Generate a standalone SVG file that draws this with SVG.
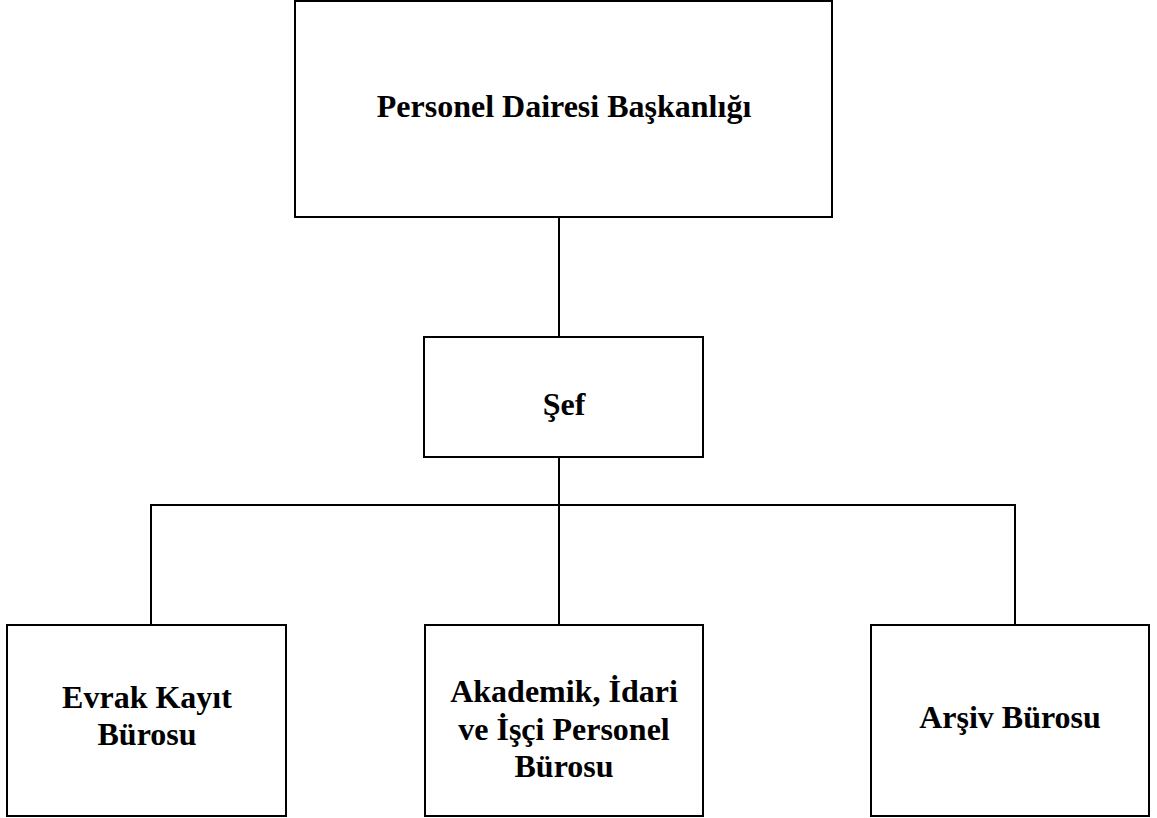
<svg xmlns="http://www.w3.org/2000/svg" width="1157" height="818" viewBox="0 0 1157 818">
<style>
.box{fill:#fff;stroke:#000;stroke-width:2}
.ln{fill:none;stroke:#000;stroke-width:2}
.t{font-family:"Liberation Serif","Times New Roman",serif;font-weight:bold;font-size:32px;fill:#000;text-anchor:middle}
</style>
<rect width="1157" height="818" fill="#fff"/>
<g id="connectors">
<path class="ln" d="M559 217V337"/>
<path class="ln" d="M559 457V505"/>
<path class="ln" d="M151 625V505H1015V625"/>
<path class="ln" d="M559 505V625"/>
</g>
<g id="node-baskanlik">
<rect class="box" x="295" y="1" width="537" height="216"/>
<text class="t" x="564" y="117">Personel Dairesi Başkanlığı</text>
</g>
<g id="node-sef">
<rect class="box" x="424" y="337" width="279" height="120"/>
<text class="t" x="564" y="415">Şef</text>
</g>
<g id="node-evrak">
<rect class="box" x="7" y="625" width="279" height="191"/>
<text class="t" x="147" y="708">Evrak Kayıt</text>
<text class="t" x="147" y="745">Bürosu</text>
</g>
<g id="node-akademik">
<rect class="box" x="425" y="625" width="278" height="191"/>
<text class="t" x="564" y="702">Akademik, İdari</text>
<text class="t" x="564" y="740">ve İşçi Personel</text>
<text class="t" x="564" y="777">Bürosu</text>
</g>
<g id="node-arsiv">
<rect class="box" x="871" y="625" width="278" height="191"/>
<text class="t" x="1010" y="728">Arşiv Bürosu</text>
</g>
</svg>
